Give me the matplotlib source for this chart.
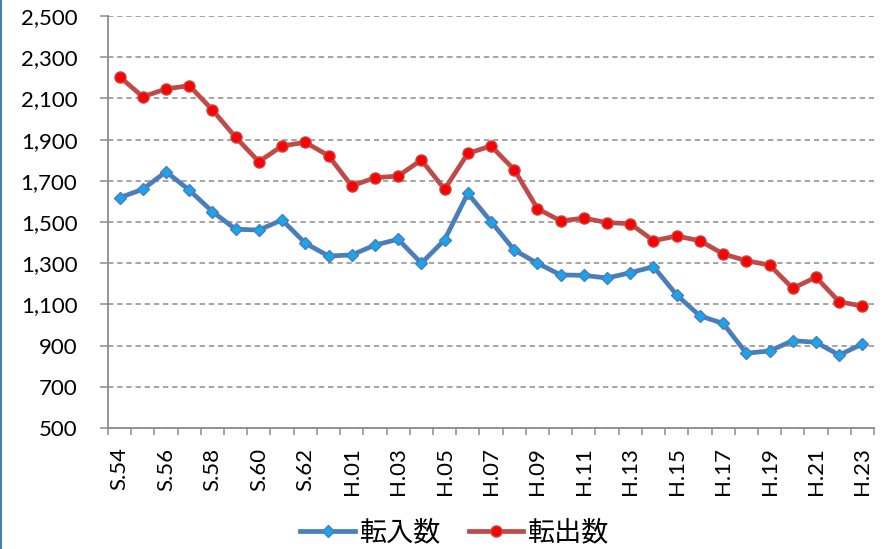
import matplotlib
matplotlib.use('Agg')
import matplotlib.pyplot as plt
import numpy as np
from matplotlib.lines import Line2D

# data
years = (['S.%02d' % y for y in range(54, 64)]
         + ['H.%02d' % y for y in range(1, 24)])
tennyu = [1618, 1659, 1744, 1655, 1550, 1465, 1461, 1510, 1397, 1335,
          1340, 1388, 1416, 1300, 1413, 1639, 1502, 1364, 1300, 1243,
          1241, 1228, 1254, 1283, 1146, 1044, 1008, 863, 874, 924,
          916, 854, 908]
tenshutsu = [2205, 2108, 2146, 2162, 2044, 1911, 1793, 1869, 1887, 1822,
             1675, 1715, 1723, 1801, 1659, 1833, 1869, 1754, 1565, 1505,
             1519, 1497, 1492, 1409, 1432, 1409, 1345, 1312, 1291, 1178,
             1232, 1113, 1092]
y_ticks = list(range(500, 2501, 200))
series_names = ['転入数', '転出数']

BLUE = '#4A7EBB'
BLUE_FILL = '#1BA3EC'
RED = '#BE4B48'
RED_FILL = '#FF0000'
GRID = '#8C8C8C'
LW = 3.4

plt.rcParams['font.family'] = ['Lato', 'DejaVu Sans']

fig = plt.figure(figsize=(8.89, 5.49), dpi=100)
ax = fig.add_axes([108 / 889, 1 - 428 / 549, (874 - 108) / 889, (428 - 16) / 549])

x = np.arange(len(years))
ax.plot(x, tennyu, color=BLUE, linewidth=LW, marker='D', markersize=6.5,
        markerfacecolor=BLUE_FILL, markeredgecolor=BLUE, markeredgewidth=1.0,
        zorder=3)
ax.plot(x, tenshutsu, color=RED, linewidth=LW, marker='o', markersize=8,
        markerfacecolor=RED_FILL, markeredgecolor=RED, markeredgewidth=1.0,
        zorder=3)

ax.set_xlim(-0.5, len(years) - 0.5)
ax.set_ylim(500, 2500)

ax.set_yticks(y_ticks)
ax.set_yticklabels(['{:,}'.format(v) for v in y_ticks])
ax.yaxis.grid(True, color=GRID, linestyle=(0, (3.5, 2.5)), linewidth=1.1)
ax.set_axisbelow(True)

ax.set_xticks(x[::2])
ax.set_xticklabels(years[::2], rotation=90)
ax.set_xticks(np.arange(-0.5, len(years), 1.0), minor=True)
ax.tick_params(axis='x', which='major', length=0, pad=14, labelsize=16)
ax.tick_params(axis='x', which='minor', length=5, width=1.1, color=GRID,
               direction='out')
ax.tick_params(axis='y', length=6, width=1.1, color=GRID, pad=16,
               labelsize=16)

for side in ['top', 'right']:
    ax.spines[side].set_visible(False)
for side in ['left', 'bottom']:
    ax.spines[side].set_color(GRID)
    ax.spines[side].set_linewidth(1.3)

handles = [
    Line2D([], [], color=BLUE, linewidth=LW, marker='D', markersize=6.5,
           markerfacecolor=BLUE_FILL, markeredgecolor=BLUE),
    Line2D([], [], color=RED, linewidth=LW, marker='o', markersize=8,
           markerfacecolor=RED_FILL, markeredgecolor=RED),
]
fig.legend(handles, series_names, loc='center',
           bbox_to_anchor=(455 / 889, 1 - 533 / 549), ncol=2, frameon=False,
           handlelength=2.0, handletextpad=0.2, columnspacing=1.0,
           prop={'family': ['Noto Sans CJK JP'], 'size': 19.5})

# thin blue frame line on the left edge of the picture
fig.add_artist(Line2D([0.0015, 0.0015], [0, 1], transform=fig.transFigure,
                      color=BLUE, linewidth=1.5))

fig.savefig('out.png', dpi=100)
